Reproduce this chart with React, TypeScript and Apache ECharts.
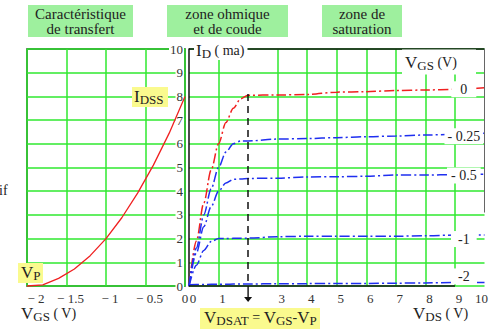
import React, { useEffect, useRef } from 'react';
import * as echarts from 'echarts';

// ---- data ----
// transfer characteristic ID = f(VGS)
const transferVgs = [-2, -1.8, -1.6, -1.4, -1.2, -1.0, -0.8, -0.6, -0.4, -0.2, 0];
const transferId = [0, 0.05, 0.32, 0.72, 1.28, 2.0, 2.88, 3.92, 5.1, 6.45, 8.0];

// output characteristics ID = f(VDS) for several VGS
const vgsLabels = ['0', '- 0.25', '- 0.5', '-1', '-2'];
const vdsPoints = [0, 0.25, 0.5, 0.75, 1, 1.25, 1.5, 1.75, 2, 3, 4, 5, 6, 7, 8, 9, 10];
const idVgs0 = [0, 1.9, 3.5, 4.9, 6.0, 6.9, 7.5, 7.9, 8.05, 8.06, 8.08, 8.18, 8.2, 8.25, 8.27, 8.3, 8.37];
const idVgsM025 = [0, 1.6, 3.0, 4.1, 5.0, 5.65, 6.0, 6.12, 6.12, 6.2, 6.22, 6.26, 6.3, 6.33, 6.37, 6.4, 6.45];
const idVgsM05 = [0, 1.4, 2.5, 3.35, 4.0, 4.35, 4.5, 4.52, 4.54, 4.55, 4.6, 4.61, 4.63, 4.68, 4.68, 4.7, 4.72];
const idVgsM1 = [0, 0.88, 1.5, 1.88, 2.0, 2.0, 2.01, 2.01, 2.02, 2.08, 2.1, 2.1, 2.1, 2.1, 2.12, 2.15, 2.15];
const idVgsM2 = [0.05, 0.06, 0.06, 0.07, 0.07, 0.07, 0.08, 0.08, 0.08, 0.1, 0.1, 0.11, 0.11, 0.12, 0.13, 0.15, 0.15];
const outputCurves = [idVgs0, idVgsM025, idVgsM05, idVgsM1, idVgsM2];

const idTicks = [0, 1, 2, 3, 4, 5, 6, 7, 8, 9, 10];
const vdsat = 2; // VDSAT for VGS = 0
const idss = 8.1;

// ---- styles ----
const SERIF = 'Liberation Serif';
const GREEN = '#2fe82f';
const RED = '#f02020';
const BLUE = '#1f2ff0';
const YELLOW = '#fafa8e';
const BOXGREEN = '#9ef09e';
const INK = '#222';

const richBase = {
  b: { fontFamily: SERIF, fontSize: 17, color: INK, lineHeight: 20, verticalAlign: 'middle' },
  s: { fontFamily: SERIF, fontSize: 13, color: INK, lineHeight: 12, verticalAlign: 'bottom' },
  n: { fontFamily: SERIF, fontSize: 14, color: INK, lineHeight: 20, verticalAlign: 'middle' },
};

function rtext(x: number, y: number, text: string, extra: any = {}) {
  return {
    type: 'text',
    x,
    y,
    z: 120,
    style: { text, rich: richBase, align: 'left', verticalAlign: 'middle', fill: INK, ...extra },
  };
}

function box(x: number, y: number, w: number, h: number, fill: string) {
  return { type: 'rect', z: 110, shape: { x, y, width: w, height: h }, style: { fill } };
}

function plain(x: number, y: number, text: string, size = 15, align = 'center') {
  return {
    type: 'text',
    x,
    y,
    z: 120,
    style: { text, fontFamily: SERIF, fontSize: size, fill: INK, align, verticalAlign: 'middle' },
  };
}

const labelDy = [0, 2, 1, 4, -6];
const labelPad = [[1, 9], [1, 3], [1, 4], [1, 7], [1, 7]];

export default function App() {
  const ref = useRef<HTMLDivElement>(null);

  useEffect(() => {
    const chart = echarts.init(ref.current!, null, { renderer: 'svg' });

    const xSplitColors = idTicks.map((t) => (t === 0 || t === vdsat || t === 10 ? 'rgba(0,0,0,0)' : GREEN));

    const outputSeries = outputCurves.map((ids, k) => ({
      type: 'line',
      name: vgsLabels[k],
      xAxisIndex: 1,
      yAxisIndex: 1,
      data: vdsPoints.map((v, i) => [v, ids[i]]),
      showSymbol: false,
      smooth: 0.3,
      smoothMonotone: 'x',
      clip: false,
      z: 3,
      lineStyle: { color: k === 0 ? RED : BLUE, width: 1.5, type: [10, 3, 2, 3] },
      markPoint: {
        silent: true,
        symbol: 'circle',
        symbolSize: 1,
        itemStyle: { color: 'rgba(0,0,0,0)' },
        z: 20,
        data: [
          {
            coord: [9.3, ids[vdsPoints.indexOf(9)]],
            label: {
              show: true,
              position: 'inside',
              formatter: vgsLabels[k],
              offset: [0, labelDy[k]],
              fontFamily: SERIF,
              fontSize: 14,
              color: INK,
              backgroundColor: '#fff',
              padding: labelPad[k],
            },
          },
        ],
      },
    }));

    // frame lines, VDSAT marker
    const frameSeries = {
      type: 'line',
      xAxisIndex: 1,
      yAxisIndex: 1,
      data: [],
      clip: false,
      z: 4,
      markLine: {
        silent: true,
        symbol: 'none',
        label: { show: false },
        animation: false,
        data: [
          [{ coord: [0, 0], lineStyle: { color: '#111', width: 1.5, type: 'solid' } }, { coord: [9, 0] }],
          [{ coord: [0, 10], lineStyle: { color: '#111', width: 1.5, type: 'solid' } }, { coord: [10, 10] }],
          [{ coord: [10, 10], lineStyle: { color: '#666', width: 1, type: 'solid' } }, { coord: [10, 3.1] }],
          [{ coord: [vdsat, idss], lineStyle: { color: '#111', width: 1.5, type: [7, 5] } }, { coord: [vdsat, 0] }],
        ],
      },
      markPoint: {
        silent: true,
        symbol: 'path://M3.3,0 L4.7,0 L4.7,11 L8,11 L4,16 L0,11 L3.3,11 Z',
        symbolSize: [8, 16],
        symbolOffset: [0, 8],
        itemStyle: { color: '#111' },
        label: { show: false },
        data: [{ coord: [vdsat, 0] }],
      },
    };

    const option: any = {
      animation: false,
      backgroundColor: '#fff',
      grid: [
        { left: 27, top: 49, width: 158, height: 237, show: true, borderColor: '#1a1a1a', borderWidth: 1.5, backgroundColor: 'transparent' },
        { left: 189, top: 49, width: 297, height: 237, show: false },
      ],
      xAxis: [
        {
          type: 'value',
          gridIndex: 0,
          min: -2,
          max: 0,
          interval: 0.5,
          axisLine: { show: false },
          axisTick: { show: false },
          splitLine: { show: true, lineStyle: { color: GREEN, width: 1.5 } },
          axisLabel: {
            margin: 6,
            formatter: (v: number) =>
              v === 0 ? '{z|0}' : v === -2 ? '{f|− 2}' : `{o|− ${Math.abs(v)}}`,
            rich: {
              z: { fontFamily: SERIF, fontSize: 13, color: '#333' },
              f: { fontFamily: SERIF, fontSize: 13, color: '#333', padding: [0, 0, 0, 18] },
              o: { fontFamily: SERIF, fontSize: 13, color: '#333', padding: [0, 0, 0, 8] },
            },
          },
        },
        {
          type: 'value',
          gridIndex: 1,
          min: 0,
          max: 10,
          interval: 1,
          axisLine: { show: false },
          axisTick: { show: false },
          splitLine: { show: true, lineStyle: { color: xSplitColors, width: 1.5 } },
          axisLabel: {
            margin: 6,
            formatter: (v: number) => (v === vdsat ? '' : v === 10 ? '{t|10}' : `{r|${v}}`),
            rich: {
              r: { fontFamily: SERIF, fontSize: 13, color: '#333', padding: [0, 0, 0, 8] },
              t: { fontFamily: SERIF, fontSize: 13, color: '#333', padding: [0, 6, 0, 0] },
            },
          },
        },
      ],
      yAxis: [
        {
          type: 'value',
          gridIndex: 0,
          min: 0,
          max: 10,
          interval: 1,
          axisLine: { show: false },
          axisTick: { show: false },
          axisLabel: { show: false },
          splitLine: { show: true, lineStyle: { color: GREEN, width: 1.5 } },
        },
        {
          type: 'value',
          gridIndex: 1,
          min: 0,
          max: 10,
          interval: 1,
          axisLine: { show: true, lineStyle: { color: '#111', width: 1.5 } },
          axisTick: { show: false },
          splitLine: { show: true, lineStyle: { color: GREEN, width: 1.5 } },
          axisLabel: {
            margin: 5,
            fontFamily: SERIF,
            fontSize: 13,
            color: '#333',
            backgroundColor: '#fff',
            padding: [0, 1],
            formatter: (v: number) => (idTicks.includes(v) ? String(v) : ''),
          },
        },
      ],
      series: [
        {
          type: 'line',
          xAxisIndex: 0,
          yAxisIndex: 0,
          data: transferVgs.map((v, i) => [v, transferId[i]]),
          showSymbol: false,
          clip: false,
          z: 3,
          lineStyle: { color: RED, width: 1.3 },
        },
        ...outputSeries,
        frameSeries,
      ],
      graphic: [
        // headers
        box(28, 5, 105, 32, BOXGREEN),
        plain(80.5, 14, 'Caractéristique'),
        plain(80.5, 29, 'de transfert'),
        box(167, 5, 121, 32, BOXGREEN),
        plain(227.5, 14, 'zone ohmique'),
        plain(227.5, 29, 'et de coude'),
        box(322, 5, 80, 32, BOXGREEN),
        plain(362, 14, 'zone de'),
        plain(362, 29, 'saturation'),
        // axis titles
        rtext(194, 50, '{b|I}{s|D}{n| ( ma)}', { backgroundColor: '#fff', padding: [0, 3, 0, 2] }),
        box(402, 49.5, 74, 25, '#fff'),
        rtext(405, 62, '{b|V}{s|GS}{n| (V)}'),
        rtext(21, 313, '{b|V}{s|GS}{n| ( V)}'),
        rtext(413, 313, '{b|V}{s|DS}{n| ( V)}'),
        // highlighted notes
        box(132, 87, 36, 20, YELLOW),
        rtext(134, 96, '{b|I}{s|DSS}'),
        box(18, 263, 25, 20, YELLOW),
        rtext(21, 272, '{b|V}{s|P}'),
        box(200, 308, 120, 21, YELLOW),
        rtext(204, 317, '{b|V}{s|DSAT}{n| = }{b|V}{s|GS}{n|-}{b|V}{s|P}'),
        // clipped text at the left edge
        plain(-1, 190, 'if', 14, 'left'),
      ],
    };

    chart.setOption(option);
    return () => chart.dispose();
  }, []);

  return (
    <div
      ref={ref}
      style={{ position: 'absolute', left: 0, top: 0, width: 491, height: 329, background: '#fff' }}
    />
  );
}
